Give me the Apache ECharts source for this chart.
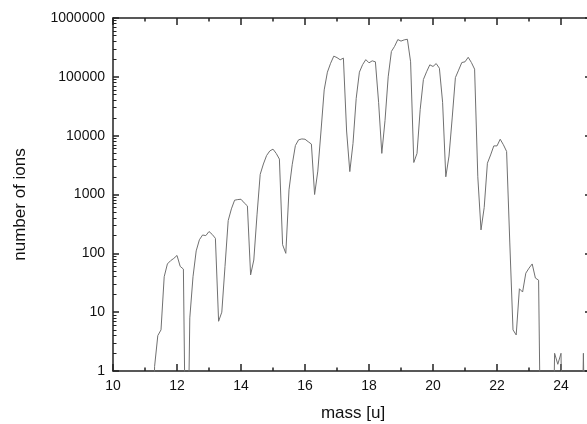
<!DOCTYPE html>
<html>
<head>
<meta charset="utf-8">
<script src="https://cdn.jsdelivr.net/npm/echarts@6/dist/echarts.min.js"></script>
<style>
html,body{margin:0;padding:0;background:#fff;}
#chart{width:587px;height:424px;}
</style>
</head>
<body>
<div id="chart"></div>
<script>
// mass values [u]
const masses = [
  11.2, 11.3, 11.4, 11.5, 11.6, 11.7, 11.8, 11.9,
  12.0, 12.1, 12.2, 12.3, 12.4, 12.5, 12.6, 12.7, 12.8, 12.9,
  13.0, 13.1, 13.2, 13.3, 13.4, 13.5, 13.6, 13.7, 13.8, 13.9,
  14.0, 14.1, 14.2, 14.3, 14.4, 14.5, 14.6, 14.7, 14.8, 14.9,
  15.0, 15.1, 15.2, 15.3, 15.4, 15.5, 15.6, 15.7, 15.8, 15.9,
  16.0, 16.1, 16.2, 16.3, 16.4, 16.5, 16.6, 16.7, 16.8, 16.9,
  17.0, 17.1, 17.2, 17.3, 17.4, 17.5, 17.6, 17.7, 17.8, 17.9,
  18.0, 18.1, 18.2, 18.3, 18.4, 18.5, 18.6, 18.7, 18.8, 18.9,
  19.0, 19.1, 19.2, 19.3, 19.4, 19.5, 19.6, 19.7, 19.8, 19.9,
  20.0, 20.1, 20.2, 20.3, 20.4, 20.5, 20.6, 20.7, 20.8, 20.9,
  21.0, 21.1, 21.2, 21.3, 21.4, 21.5, 21.6, 21.7, 21.8, 21.9,
  22.0, 22.1, 22.2, 22.3, 22.4, 22.5, 22.6, 22.7, 22.8, 22.9,
  23.0, 23.1, 23.2, 23.3, 23.4, 23.5, 23.6, 23.7, 23.8, 23.9,
  24.0, 24.1, 24.2, 24.3, 24.4, 24.5, 24.6, 24.7, 24.8, 24.9
];
// number of ions (0 = no counts, falls off the log scale)
const ions = [
  0, 1.2, 4, 5, 40, 66, 75, 82,
  92, 60, 54, 0, 8, 40, 110, 170, 205, 200,
  235, 210, 180, 7, 10, 60, 360, 570, 800, 820,
  830, 720, 640, 43, 77, 450, 2200, 3300, 4600, 5500,
  5900, 5000, 4000, 140, 100, 1200, 3200, 6800, 8500, 8800,
  8700, 7900, 7200, 1000, 2500, 12000, 60000, 120000, 170000, 225000,
  212000, 195000, 208000, 12000, 2450, 7400, 43000, 120000, 161000, 196000,
  173000, 187000, 180000, 37000, 5000, 18000, 100000, 270000, 330000, 430000,
  405000, 425000, 435000, 180000, 3500, 5000, 28000, 90000, 122000, 160000,
  150000, 168000, 140000, 37000, 2000, 4500, 20000, 97000, 130000, 175000,
  180000, 215000, 175000, 135000, 2000, 250, 600, 3400, 4700, 6700,
  6700, 8700, 7000, 5400, 150, 5, 4.1, 25, 22, 46,
  56, 66, 38, 35, 0, 0, 0, 0, 2, 1.3,
  2, 0, 0, 0, 0, 0, 0, 2, 0, 0
];
const xMajorTicks = [10, 12, 14, 16, 18, 20, 22, 24];
const xMinorTicks = [11, 13, 15, 17, 19, 21, 23];
const yMajorTicks = [1, 10, 100, 1000, 10000, 100000, 1000000];
const yMinorTicks = [];
for (let d = 1; d < 1000000; d *= 10) {
  for (let k = 2; k <= 9; k++) yMinorTicks.push(k * d);
}

const FONT = '"Liberation Sans", Arial, sans-serif';
const AX = '#222';
const LINE = '#707070';
const ZERO_FLOOR = 1e-3; // where zero counts are sent on the log axis (clipped)

const points = masses.map((m, i) => [m, ions[i] > 0 ? ions[i] : ZERO_FLOOR]);

function xAx(pos, major, withLine) {
  return {
    type: 'value', min: 10, max: 25, position: pos,
    axisLine: { show: withLine, onZero: false, lineStyle: { color: AX, width: 1.5 } },
    axisTick: { show: true, inside: true, length: major ? 7 : 3.5,
      customValues: major ? xMajorTicks : xMinorTicks,
      lineStyle: { color: AX, width: 1.5 } },
    axisLabel: { show: false },
    splitLine: { show: false }
  };
}
function yAx(pos, major, withLine, len) {
  return {
    type: 'log', logBase: 10, min: 1, max: 1000000, position: pos,
    axisLine: { show: withLine, onZero: false, lineStyle: { color: AX, width: 1.5 } },
    axisTick: { show: true, inside: true, length: len,
      customValues: major ? yMajorTicks : yMinorTicks,
      lineStyle: { color: AX, width: major ? 1.5 : 1 } },
    axisLabel: { show: false },
    splitLine: { show: false }
  };
}

const xAxes = [xAx('bottom', true, true), xAx('bottom', false, false), xAx('top', true, true), xAx('top', false, false)];
xAxes[0].axisLabel = { show: true, customValues: xMajorTicks, fontSize: 14, color: '#111', margin: 8, fontFamily: FONT };
xAxes[0].name = 'mass [u]';
xAxes[0].nameLocation = 'middle';
xAxes[0].nameGap = 34;
xAxes[0].nameTextStyle = { fontSize: 17, color: '#111', fontFamily: FONT };

const yAxes = [yAx('left', true, true, 6), yAx('left', false, false, 3.5), yAx('right', true, true, 8), yAx('right', false, false, 3.5)];
yAxes[0].axisLabel = { show: true, customValues: yMajorTicks, fontSize: 14, color: '#111', margin: 8, fontFamily: FONT,
  formatter: v => String(Math.round(v)) };
yAxes[0].name = 'number of ions';
yAxes[0].nameLocation = 'middle';
yAxes[0].nameGap = 84;
yAxes[0].nameTextStyle = { fontSize: 17, color: '#111', fontFamily: FONT, padding: [0, 20, 0, 0] };

const chart = echarts.init(document.getElementById('chart'), null, { renderer: 'canvas' });
chart.setOption({
  animation: false,
  backgroundColor: '#fff',
  textStyle: { fontFamily: FONT },
  grid: { left: 113, top: 18, width: 480, height: 353, containLabel: false, outerBoundsMode: 'none' },
  xAxis: xAxes,
  yAxis: yAxes,
  series: [{
    type: 'line',
    xAxisIndex: 0, yAxisIndex: 0,
    data: points,
    symbol: 'none',
    clip: true,
    lineStyle: { color: LINE, width: 1 }
  }]
});
</script>
</body>
</html>
